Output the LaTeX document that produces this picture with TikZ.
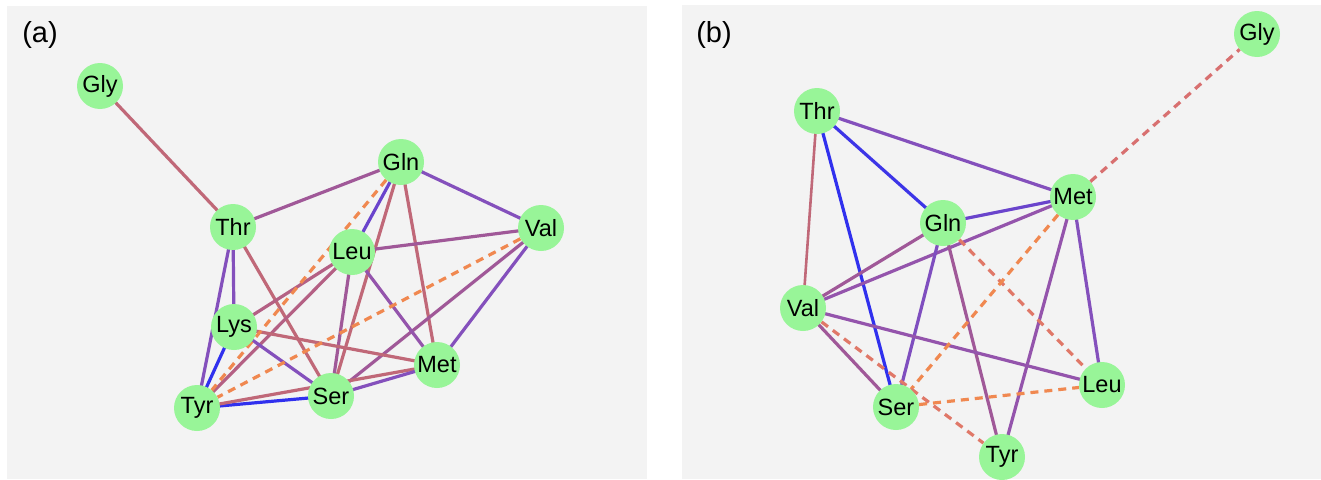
\documentclass[tikz,border=0pt]{standalone}
\usepackage{fontspec}
\setmainfont{Liberation Sans}
\pgfdeclarelayer{panel}
\pgfdeclarelayer{links}
\pgfsetlayers{panel,links,main}
\definecolor{panelbg}{HTML}{F3F3F3}
\definecolor{nodegreen}{HTML}{98F598}
\definecolor{cRed}{HTML}{C06878}
\definecolor{cRose}{HTML}{B46084}
\definecolor{cMauve}{HTML}{A05898}
\definecolor{cPlum}{HTML}{9454AC}
\definecolor{cPurple}{HTML}{8450BC}
\definecolor{cIndigo}{HTML}{6A44CC}
\definecolor{cBlue}{HTML}{3030EE}
\definecolor{cOrange}{HTML}{F08850}
\definecolor{cCoral}{HTML}{E07868}
\definecolor{cSalmon}{HTML}{D87070}
\tikzset{
  aa/.style={circle, fill=nodegreen, minimum size=46pt, inner sep=0pt,
    font=\fontsize{23.5}{26}\selectfont},
  link/.style={line width=3.2pt},
  dlink/.style={line width=3.2pt, dash pattern=on 8pt off 6pt},
  tag/.style={font=\fontsize{29}{32}\selectfont, inner sep=0pt}
}
\begin{document}
\begin{tikzpicture}[x=1pt, y=-1pt]
\useasboundingbox (0,0) rectangle (1321,479);
\begin{pgfonlayer}{panel}
  \fill[white] (0,0) rectangle (1321,479);
  \fill[panelbg] (7,6) rectangle (647,479);
  \fill[panelbg] (682,5) rectangle (1321,479);
\end{pgfonlayer}

% ---- panel (a) ----
\node[tag] (ta) at (40,35) {(a)};
\node[aa] (aGly) at (100,86) {Gly};
\node[aa] (aThr) at (233,227) {Thr};
\node[aa] (aGln) at (401,162) {Gln};
\node[aa] (aVal) at (541,228) {Val};
\node[aa] (aLeu) at (352,252) {Leu};
\node[aa] (aLys) at (234,327) {Lys};
\node[aa] (aMet) at (437,365) {Met};
\node[aa] (aTyr) at (197,408) {Tyr};
\node[aa] (aSer) at (331,396) {Ser};

\begin{pgfonlayer}{links}
  \draw[link, cRed] (aGly.center) -- (aThr.center);
  \draw[link, cMauve] (aThr.center) -- (aGln.center);
  \draw[link, cPurple] (aGln.center) -- (aVal.center);
  \draw[link, cPurple] (aThr.center) -- (aLys.center);
  \draw[link, cPurple] (aThr.center) -- (aTyr.center);
  \draw[link, cRed] (aThr.center) -- (aSer.center);
  \draw[link, cIndigo] (aGln.center) -- (aLeu.center);
  \draw[link, cRed] (aGln.center) -- (aSer.center);
  \draw[link, cRed] (aGln.center) -- (aMet.center);
  \draw[link, cMauve] (aVal.center) -- (aLeu.center);
  \draw[link, cMauve] (aVal.center) -- (aSer.center);
  \draw[link, cPurple] (aVal.center) -- (aMet.center);
  \draw[link, cRose] (aLeu.center) -- (aLys.center);
  \draw[link, cRose] (aLeu.center) -- (aTyr.center);
  \draw[link, cMauve] (aLeu.center) -- (aSer.center);
  \draw[link, cPlum] (aLeu.center) -- (aMet.center);
  \draw[link, cRed] (aLys.center) -- (aMet.center);
  \draw[link, cPurple] (aLys.center) -- (aSer.center);
  \draw[link, cBlue] (aLys.center) -- (aTyr.center);
  \draw[link, cBlue] (aTyr.center) -- (aSer.center);
  \draw[link, cRed] (aTyr.center) -- (aMet.center);
  \draw[link, cPurple] (aSer.center) -- (aMet.center);
  \draw[dlink, cOrange] (aGln) -- (aTyr);
  \draw[dlink, cOrange] (aVal) -- (aTyr);
\end{pgfonlayer}

% ---- panel (b) ----
\node[tag] (tb) at (714,35) {(b)};
\node[aa] (bGly) at (1257,34) {Gly};
\node[aa] (bThr) at (817,111) {Thr};
\node[aa] (bMet) at (1073,197) {Met};
\node[aa] (bGln) at (943,223) {Gln};
\node[aa] (bVal) at (803,308) {Val};
\node[aa] (bSer) at (896,407) {Ser};
\node[aa] (bLeu) at (1102,385) {Leu};
\node[aa] (bTyr) at (1002,457) {Tyr};

\begin{pgfonlayer}{links}
  \draw[link, cPurple] (bThr.center) -- (bMet.center);
  \draw[link, cBlue!85!cPurple] (bThr.center) -- (bGln.center);
  \draw[link, cBlue] (bThr.center) -- (bSer.center);
  \draw[link, cRed, line width=2.6pt] (bThr.center) -- (bVal.center);
  \draw[link, cIndigo] (bGln.center) -- (bMet.center);
  \draw[link, cPlum] (bMet.center) -- (bVal.center);
  \draw[link, cMauve] (bGln.center) -- (bVal.center);
  \draw[link, cPurple!80!cIndigo] (bGln.center) -- (bSer.center);
  \draw[link, cMauve] (bGln.center) -- (bTyr.center);
  \draw[link, cPlum] (bMet.center) -- (bTyr.center);
  \draw[link, cPurple] (bMet.center) -- (bLeu.center);
  \draw[link, cPlum] (bVal.center) -- (bLeu.center);
  \draw[link, cMauve] (bVal.center) -- (bSer.center);
  \draw[dlink, cCoral] (bGln) -- (bLeu);
  \draw[dlink, cOrange] (bMet) -- (bSer);
  \draw[dlink, cSalmon] (bMet) -- (bGly);
  \draw[dlink, cCoral] (bVal) -- (bTyr);
  \draw[dlink, cOrange] (bSer) -- (bLeu);
\end{pgfonlayer}
\end{tikzpicture}
\end{document}
